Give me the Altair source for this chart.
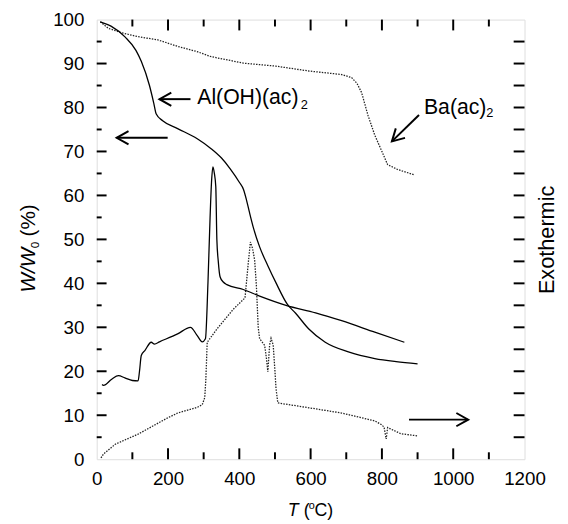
import altair as alt
import pandas as pd

# ---- data ----
al_tg_x = [10, 40, 80, 110, 125, 148, 160, 167, 185, 227, 282, 320, 350, 375, 400, 412, 420, 428, 440, 457, 480,
           503, 535, 558, 595, 641, 706, 780, 840, 900]
al_tg_y = [99.5, 98.5, 96, 93, 90.5, 85, 81, 78.5, 77, 75.2, 72.9, 70.7, 68.5, 66, 63, 61.3, 59, 56.3, 52.5, 48.3,
           44, 40.1, 35.2, 33.2, 29.6, 26.6, 24.4, 22.9, 22.2, 21.7]

ba_tg_x = [10, 33, 70, 116, 171, 227, 282, 319, 411, 503, 595, 687, 715, 730, 743, 761, 780, 800, 816, 844, 890]
ba_tg_y = [99.5, 98, 97, 96.1, 95.4, 93.9, 92.7, 91.6, 90.1, 89.4, 88.3, 87.5, 86.8, 85.5, 83.4, 78.2, 73.7, 70, 67,
           65.9, 64.7]

al_dta_x = [15, 19, 42, 61, 79, 100, 116, 120, 125, 135, 153, 162, 176, 227, 263, 282, 296, 305, 312, 318,
            322, 326, 330, 334, 337, 341, 346, 355, 365, 411, 457, 531, 614, 687, 780, 863]
al_dta_y = [17, 16.8, 18.2, 19, 18.5, 17.9, 17.8, 20, 23.6, 24.7, 26.6, 26.2, 26.7, 28.5, 30, 28.1, 26.7, 27.4, 40,
            55, 63, 66.5, 65, 62, 50, 45, 41.5, 40.3, 39.7, 38.6, 37.1, 35, 33.3, 31.5, 28.9, 26.6]

ba_dta_x = [12, 19, 52, 116, 199, 227, 282, 296, 303, 306, 310, 337, 383, 416, 425, 431, 437, 443, 448, 453,
            457, 471, 476, 480, 485, 489, 495, 500, 503, 508, 595, 687, 724, 780, 798, 806, 810, 812, 816, 853, 900]
ba_dta_y = [0.3, 1.2, 3.4, 5.7, 9.4, 10.5, 11.8, 12.4, 14, 18, 26.6, 29.6, 34.1, 36.7, 44.5, 49.4, 48, 45.3, 39.3,
            30, 27.4, 25.9, 23, 19.9, 26, 27.5, 26, 20, 16, 12.8, 11.7, 10.5, 9.8, 8.7, 7.9, 7.3, 5.5, 4.6, 7.2,
            5.8, 5.3]

x_label_values = [0, 200, 400, 600, 800, 1000, 1200]
x_major_ticks = [200, 400, 600, 800, 1000]
x_minor_ticks = [100, 300, 500, 700, 900, 1100]
y_label_values = [0, 10, 20, 30, 40, 50, 60, 70, 80, 90, 100]
y_major_ticks = [10, 20, 30, 40, 50, 60, 70, 80, 90]
y_minor_ticks = [5, 15, 25, 35, 45, 55, 65, 75, 85, 95]
right_ticks = [5, 10, 15, 20, 25, 30, 35, 40, 45, 50, 55, 60, 65, 70, 75, 80, 85, 90, 95]

label_text = ["Al(OH)(ac)", "Ba(ac)"]
label_x = [282, 918]
label_y = [80.8, 78.5]
sub_text = ["2", "2"]
sub_x = [572, 1093]
sub_y = [79.7, 77.8]

arrow_x1 = [263, 199, 904, 876]
arrow_y1 = [81.9, 73.1, 78.3, 9.0]
arrow_x2 = [176, 56, 828, 1042]
arrow_y2 = [81.9, 73.1, 72.3, 9.0]
arrow_angle = [0, 0, 316, 180]

FONT = "Liberation Sans"
W, H = 434, 446


def series(name, xs, ys):
    return pd.DataFrame({"T": xs, "W": ys, "series": name, "order": list(range(len(xs)))})


solid = pd.concat([series("Al TG", al_tg_x, al_tg_y), series("Al DTA", al_dta_x, al_dta_y)])
dotted = pd.concat([series("Ba TG", ba_tg_x, ba_tg_y), series("Ba DTA", ba_dta_x, ba_dta_y)])

xs = alt.Scale(domain=[0, 1200], nice=False, zero=False)
ys = alt.Scale(domain=[0, 100], nice=False, zero=False)
x_axis = alt.Axis(values=x_label_values, format="d", labelFontSize=19, labelFlush=False, ticks=False, tickSize=0,
                  domain=False, grid=False, title=None, labelPadding=11, labelFont=FONT, labelColor="black")
y_axis = alt.Axis(values=y_label_values, format="d", labelFontSize=19, ticks=False, tickSize=0, domain=False,
                  grid=False, title=None, labelPadding=13, labelFont=FONT, labelColor="black")


def X(f):
    return alt.X(f, type="quantitative", scale=xs, axis=x_axis)


def Y(f):
    return alt.Y(f, type="quantitative", scale=ys, axis=y_axis)


solid_lines = alt.Chart(solid).mark_line(color="black", strokeWidth=1.3, interpolate="monotone").encode(
    x=X("T"), y=Y("W"), detail="series:N", order="order:Q")
dotted_lines = alt.Chart(dotted).mark_line(color="#222", strokeWidth=1.3, strokeDash=[1.5, 1.3]).encode(
    x=X("T"), y=Y("W"), detail="series:N", order="order:Q")

# ticks (inward)
ylm = pd.DataFrame({"v": y_major_ticks})
ylmi = pd.DataFrame({"v": y_minor_ticks})
yr = pd.DataFrame({"v": right_ticks})
xm = pd.DataFrame({"v": x_major_ticks})
xmi = pd.DataFrame({"v": x_minor_ticks})
tk = dict(color="black", strokeWidth=2)
ticks = [
    alt.Chart(ylm).mark_rule(**tk).encode(y=Y("v"), x=alt.value(0), x2=alt.value(10)),
    alt.Chart(ylmi).mark_rule(**tk).encode(y=Y("v"), x=alt.value(0), x2=alt.value(5)),
    alt.Chart(yr).mark_rule(**tk).encode(y=Y("v"), x=alt.value(W), x2=alt.value(W - 11)),
    alt.Chart(xm).mark_rule(**tk).encode(x=X("v"), y=alt.value(H), y2=alt.value(H - 11)),
    alt.Chart(xmi).mark_rule(**tk).encode(x=X("v"), y=alt.value(H), y2=alt.value(H - 7)),
    alt.Chart(xm).mark_rule(**tk).encode(x=X("v"), y=alt.value(0), y2=alt.value(11)),
    alt.Chart(xmi).mark_rule(**tk).encode(x=X("v"), y=alt.value(0), y2=alt.value(7)),
]

labels = pd.DataFrame({"x": label_x, "y": label_y, "t": label_text})
subs = pd.DataFrame({"x": sub_x, "y": sub_y, "t": sub_text})
label_layer = alt.Chart(labels).mark_text(font=FONT, fontSize=21.5, align="left", baseline="alphabetic",
                                          color="black").encode(x=X("x"), y=Y("y"), text="t:N")
sub_layer = alt.Chart(subs).mark_text(font=FONT, fontSize=13, align="left", baseline="alphabetic",
                                      color="black").encode(x=X("x"), y=Y("y"), text="t:N")

arrows = pd.DataFrame({"x1": arrow_x1, "y1": arrow_y1, "x2": arrow_x2, "y2": arrow_y2, "ang": arrow_angle})
shaft = alt.Chart(arrows).mark_rule(color="black", strokeWidth=2).encode(
    x=X("x1"), y=Y("y1"), x2="x2", y2="y2")
heads = alt.Chart(arrows).mark_point(shape="M 1 -0.56 L 0 0 L 1 0.56", size=576, filled=False,
                                     color="black", strokeWidth=2, opacity=1).encode(
    x=X("x2"), y=Y("y2"), angle=alt.Angle("ang:Q", scale=None))


def txt(t, x, y, size, angle=0, italic=False, align="left"):
    kw = dict(font=FONT, fontSize=size, align=align, baseline="alphabetic", color="black")
    if angle:
        kw["angle"] = angle
    if italic:
        kw["fontStyle"] = "italic"
    return alt.Chart(pd.DataFrame({"t": [t]})).mark_text(**kw).encode(
        text="t:N", x=alt.value(x), y=alt.value(y))


titles = [
    txt("W/W", -63, 277, 21, angle=270, italic=True),
    txt("0", -59, 232, 12, angle=270),
    txt("(%)", -63, 220, 21, angle=270),
    txt("T", 193.7, 504, 18, italic=True),
    txt("(", 210, 504, 18),
    txt("o", 215, 497, 11),
    txt("C)", 221, 504, 18),
    txt("Exothermic", 463.5, 223.5, 22, angle=270, align="center"),
]

chart = alt.layer(
    *ticks, dotted_lines, solid_lines, shaft, heads, label_layer, sub_layer, *titles
).properties(
    width=W, height=H,
    autosize=alt.AutoSizeParams(type="none"),
    padding={"left": 90, "top": 8, "right": 36, "bottom": 62},
).configure_view(stroke="black", strokeWidth=2).configure(background="white")

chart.save("out.html", embed_options={"renderer": "svg", "actions": False})
